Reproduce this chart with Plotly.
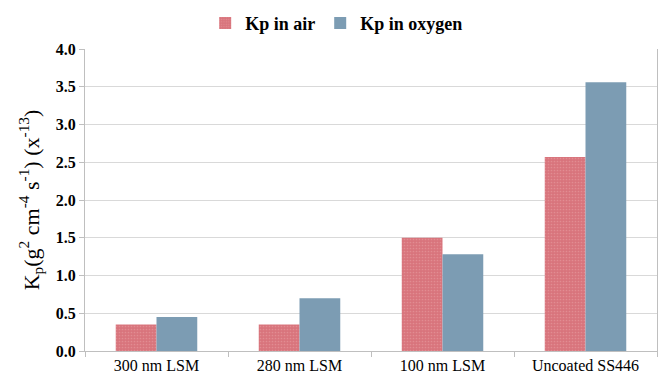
import plotly.graph_objects as go

categories = ["300 nm LSM", "280 nm LSM", "100 nm LSM", "Uncoated SS446"]
kp_air = [0.35, 0.35, 1.50, 2.57]
kp_oxygen = [0.45, 0.70, 1.28, 3.56]
series_names = ["Kp in air", "Kp in oxygen"]
y_ticks = [0.0, 0.5, 1.0, 1.5, 2.0, 2.5, 3.0, 3.5, 4.0]

fig = go.Figure()
fig.add_trace(go.Bar(
    x=categories, y=kp_air, name=series_names[0],
    marker=dict(color="#d8747c", line=dict(width=0),
                pattern=dict(shape=".", size=3, solidity=0.25, fgcolor="#e9a3a7", fillmode="overlay")),
))
fig.add_trace(go.Bar(
    x=categories, y=kp_oxygen, name=series_names[1],
    marker=dict(color="#7c9cb3", line=dict(width=0)),
))

serif = "Liberation Serif"
fig.update_layout(
    width=662, height=384,
    margin=dict(l=85, r=5, t=40, b=33),
    paper_bgcolor="white", plot_bgcolor="white",
    barmode="group", bargap=0.43, bargroupgap=0,
    font=dict(family=serif, color="black"),
    showlegend=True,
    legend=dict(orientation="h", x=0.44, xanchor="center", y=1.085, yanchor="middle",
                font=dict(family=serif, size=18, color="black", weight="bold"),
                itemwidth=30, tracegroupgap=0, bgcolor="rgba(0,0,0,0)"),
    xaxis=dict(
        showline=True, linecolor="#bfbfbf", linewidth=1,
        ticks="outside", tickson="boundaries", ticklen=5, tickcolor="#bfbfbf",
        tickfont=dict(family=serif, size=16, color="black"),
        showgrid=False,
    ),
    yaxis=dict(
        range=[0, 4.0], tickvals=y_ticks, ticktext=[f"{v:.1f}" for v in y_ticks],
        showline=True, linecolor="#bfbfbf", linewidth=1, mirror=True,
        ticks="outside", ticklen=5, tickcolor="#bfbfbf",
        showgrid=True, gridcolor="#d9d9d9", gridwidth=1,
        zeroline=False,
        tickfont=dict(family=serif, size=16, color="black", weight="bold"),
        title=dict(text="K<sub>p</sub>(g<sup>2</sup> cm<sup>-4</sup> s<sup>-1</sup>) (x<sup>-13</sup>)",
                   font=dict(family=serif, size=22, color="black"), standoff=10),
    ),
)

fig.write_html("out.html")
